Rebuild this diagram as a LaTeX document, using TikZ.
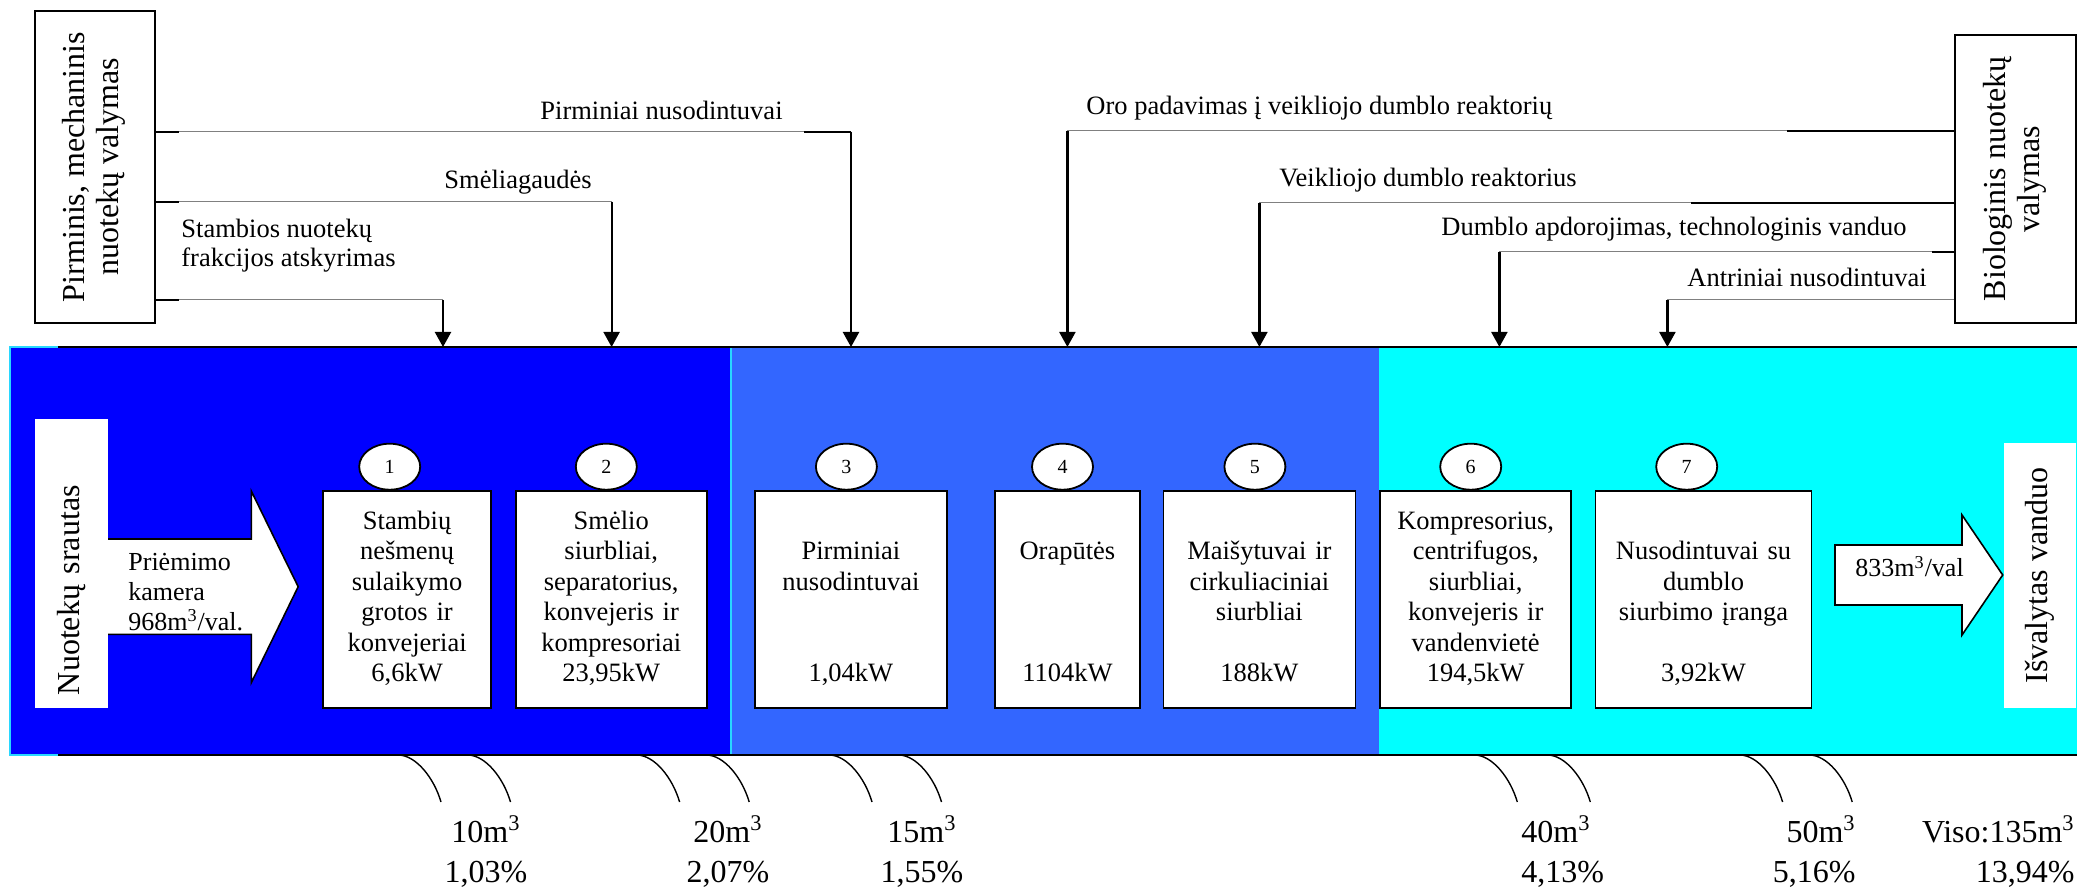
\documentclass[tikz,border=0pt]{standalone}
\usepackage{fontspec}
\setmainfont{Liberation Serif}
\usepackage{graphicx}
\usepackage{tikz}
\usetikzlibrary{arrows.meta,shapes.geometric}

\definecolor{stageA}{RGB}{0,0,255}
\definecolor{stageB}{RGB}{51,102,255}
\definecolor{stageC}{RGB}{0,255,255}
\definecolor{rim}{RGB}{40,215,255}

\newcommand{\cube}{m\textsuperscript{3}}

\tikzset{
  unit/.style={draw, fill=white, line width=0.9pt, inner sep=0pt, minimum height=108.35pt,
    align=center, font=\fontsize{13.25}{15.25}\selectfont},
  num/.style={ellipse, draw, fill=white, line width=0.9pt, inner sep=0pt,
    minimum width=30.5pt, minimum height=23pt, font=\fontsize{10}{12}\selectfont},
  lbl/.style={inner sep=0pt, anchor=west, align=left, font=\fontsize{13.25}{14.5}\selectfont},
  side/.style={draw, fill=white, line width=0.9pt, inner sep=0pt, font=\fontsize{16}{17}\selectfont},
  tank/.style={fill=white, inner sep=0pt, font=\fontsize{16}{17}\selectfont},
  wire/.style={draw=gray, line width=0.5pt},
  stub/.style={line width=1pt},
  feed/.style={line width=1.1pt, -{Triangle[width=8pt,length=7.5pt]}},
  leak/.style={line width=0.7pt},
  loss/.style={inner sep=0pt, font=\fontsize{16}{20}\selectfont},
  block/.style={draw, fill=white, line width=0.8pt, line join=miter},
  flowtxt/.style={inner sep=0pt, anchor=west, align=left, font=\fontsize{13}{15}\selectfont},
}

\begin{document}
\begin{tikzpicture}[x=0.5pt,y=-0.5pt]
          \useasboundingbox (0,0) rectangle (2081,887);

          % treatment stages
          \fill[stageA] (10,347) rectangle (730,755);
          \fill[stageB] (730,347) rectangle (1379,755);
          \fill[stageC] (1379,347) rectangle (2077,755);
          \draw[rim, line width=0.8pt] (58,347) -- (10,347) -- (10,755) -- (58,755);
          \draw[rim, line width=1pt] (730.5,347) -- (730.5,755);
          \draw[line width=0.8pt] (58,347) -- (2077,347);
          \draw[line width=0.8pt] (58,755) -- (2077,755);
          \coordinate (bandtop) at (0,347);

          \node[side, minimum width=60pt, minimum height=156pt] (mech) at (95,167)
            {\rotatebox{90}{\begin{tabular}{@{}c@{}}Pirminis, mechaninis\\nuotekų valymas\end{tabular}}};
          \node[side, minimum width=60.35pt, minimum height=144pt] (bio) at (2015.7,179)
            {\rotatebox{90}{\begin{tabular}{@{}c@{}}Biologinis nuotekų\\valymas\end{tabular}}};

          \node[lbl] (lp1) at (540,110) {Pirminiai nusodintuvai};
          \node[lbl] (lp2) at (444,182) {Smėliagaudės};
          \node[lbl] (lp3) at (181,245.5) {Stambios nuotekų\\frakcijos atskyrimas};
          \node[lbl] (lq1) at (1086,108) {Oro padavimas į veikliojo dumblo reaktorių};
          \node[lbl] (lq2) at (1279,180) {Veikliojo dumblo reaktorius};
          \node[lbl] (lq3) at (1441,229) {Dumblo apdorojimas, technologinis vanduo};
          \node[lbl] (lq4) at (1687,277) {Antriniai nusodintuvai};

          \coordinate (p1) at (851,131.7);
          \coordinate (p2) at (611.6,202);
          \coordinate (p3) at (443,300);
          \coordinate (q1) at (1067.4,131);
          \coordinate (q2) at (1259.4,203);
          \coordinate (q3) at (1499.4,252);
          \coordinate (q4) at (1667.4,300);

          % feeds into the stages
          \foreach \c in {p1,p2,p3}{
            \draw[wire] (mech.east |- \c) -- (\c);
            \draw[stub] (mech.east |- \c) -- ++(23,0);
            \draw[feed] (\c) -- (\c |- bandtop);
          }
          \foreach \c in {q1,q2,q3,q4}{
            \draw[wire] (bio.west |- \c) -- (\c);
            \draw[feed] (\c) -- (\c |- bandtop);
          }
          \draw[stub] (p1) -- ++(-47,0);
          \draw[stub] (bio.west |- q1) -- ++(-167,0);
          \draw[stub] (bio.west |- q2) -- ++(-263,0);
          \draw[stub] (bio.west |- q3) -- ++(-22,0);

          \node[tank, rotate=90, inner xsep=6.35pt, text width=131.5pt, align=left,
            minimum height=36.6pt] (inlet) at (71.4,563.5) {Nuotekų srautas};
          \draw[block] (108,539) -- (251.3,539) -- (251.3,491) -- (298.2,586.7)
            -- (251.3,682.7) -- (251.3,634.3) -- (108,634.3);
          \node[flowtxt] (intake) at (128,591.7) {Priėmimo\\kamera\\968\cube/val.};

          \node[unit, minimum width=83.9pt, text width=78pt] (b1) at (407.1,599.4)
            {\strut Stambių\\ nešmenų\\ sulaikymo\\ grotos ir\\ konvejeriai\\ 6,6kW\strut};
          \node[unit, minimum width=95.55pt, text width=89pt] (b2) at (611.2,599.4)
            {\strut Smėlio\\ siurbliai,\\ separatorius,\\ konvejeris ir\\ kompresoriai\\ 23,95kW\strut};
          \node[unit, minimum width=96pt, text width=90pt] (b3) at (850.9,599.4)
            {\strut\\ Pirminiai\\ nusodintuvai\\ \strut\\ \strut\\ 1,04kW\strut};
          \node[unit, minimum width=72.35pt, text width=66pt] (b4) at (1067.4,599.4)
            {\strut\\ Orapūtės\\ \strut\\ \strut\\ \strut\\ 1104kW\strut};
          \node[unit, minimum width=96pt, text width=90pt] (b5) at (1259.4,599.4)
            {\strut\\ Maišytuvai ir\\ cirkuliaciniai\\ siurbliai\\ \strut\\ 188kW\strut};
          \node[unit, minimum width=95.65pt, text width=90pt] (b6) at (1475.7,599.4)
            {\strut Kompresorius,\\ centrifugos,\\ siurbliai,\\ konvejeris ir\\ vandenvietė\\ 194,5kW\strut};
          \node[unit, minimum width=107.95pt, text width=102pt] (b7) at (1703.5,599.4)
            {\strut\\ Nusodintuvai su\\ dumblo\\ siurbimo įranga\\ \strut\\ 3,92kW\strut};

          \node[num] (n1) at (389.7,466.7) {1};
          \node[num] (n2) at (606.3,466.7) {2};
          \node[num] (n3) at (846.4,466.7) {3};
          \node[num] (n4) at (1062.5,466.7) {4};
          \node[num] (n5) at (1254.9,466.7) {5};
          \node[num] (n6) at (1470.7,466.7) {6};
          \node[num] (n7) at (1686.7,466.7) {7};

          \draw[block] (1835,545) -- (1962,545) -- (1962,515) -- (2002.7,575)
            -- (1962,635) -- (1962,605) -- (1835,605) -- cycle;
          \node[flowtxt] (flowout) at (1855,566.7) {833\cube/val};
          \node[tank, rotate=90, minimum width=132.2pt, minimum height=36.2pt] (outlet)
            at (2039.8,575.5) {Išvalytas vanduo};

          % losses
          \foreach \a in {398,467.5,636.6,706.2,829,898.5,1474.3,1547.3,1739.6,1809.2}
            \draw[leak] (\a,755) .. controls +(18,0) and +(-7,-24) .. ({\a+43},802);
          \node[loss, align=center] (s1) at (486,851.7) {10\cube\\1,03\%};
          \node[loss, align=center] (s2) at (728,851.7) {20\cube\\2,07\%};
          \node[loss, align=center] (s3) at (922,851.7) {15\cube\\1,55\%};
          \node[loss, align=left, anchor=west] (s4) at (1521,851.7) {40\cube\\4,13\%};
          \node[loss, align=right, anchor=east] (s5) at (1856,851.7) {50\cube\\5,16\%};
          \node[loss, align=right, anchor=east] (s6) at (2075,851.7) {Viso:135\cube\\13,94\%};
\end{tikzpicture}
\end{document}
